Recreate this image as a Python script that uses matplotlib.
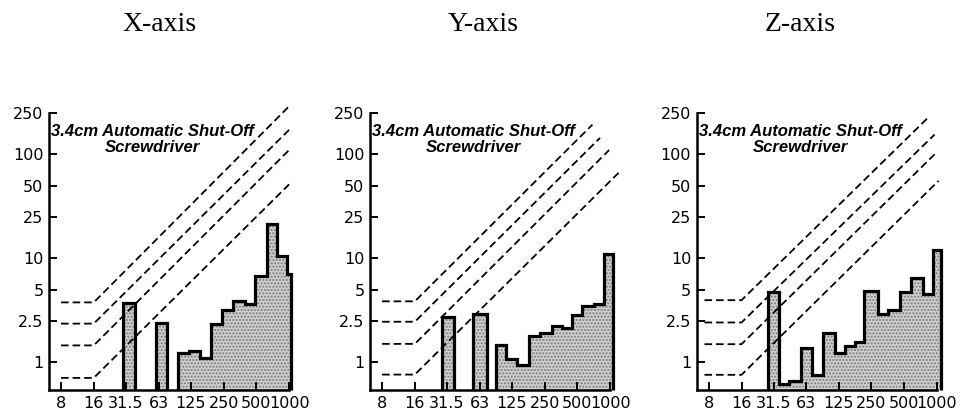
import numpy as np
import matplotlib
matplotlib.use("Agg")
import matplotlib.pyplot as plt
from matplotlib.ticker import FixedLocator, FixedFormatter, NullLocator

titles = ["X-axis", "Y-axis", "Z-axis"]
note = "3.4cm Automatic Shut-Off\nScrewdriver"

x_ticks = [8, 16, 31.5, 63, 125, 250, 500, 1000]
x_tick_labels = ["8", "16", "31.5", "63", "125", "250", "500", "1000"]
y_ticks = [1, 2.5, 5, 10, 25, 50, 100, 250]
y_tick_labels = ["1", "2.5", "5", "10", "25", "50", "100", "250"]

nan = np.nan

# band edges (Hz) and levels, nan = empty band
x_edges = [29.5, 38.7, 59.3, 75.2, 94.6, 120.7, 151, 192.6, 243, 303, 395, 488, 623, 768, 959, 1036]
x_levels = [3.7, nan, 2.37, nan, 1.23, 1.28, 1.10, 2.33, 3.19, 3.89, 3.62, 6.8, 21.5, 10.6, 7.06]

y_edges = [28.6, 36.4, 55.1, 73.2, 89.3, 110.5, 140.6, 177.8, 228, 293, 362, 442, 555, 711, 880, 1052]
y_levels = [2.70, nan, 2.90, nan, 1.45, 1.08, 0.95, 1.80, 1.91, 2.25, 2.13, 2.87, 3.5, 3.65, 11.1]

z_edges = [27.8, 35.4, 44.1, 56.5, 70.7, 90.6, 116, 143.5, 177, 216, 286, 359, 460, 581, 743, 913, 1098]
z_levels = [4.75, 0.62, 0.66, 1.38, 0.746, 1.89, 1.22, 1.44, 1.58, 4.85, 2.90, 3.21, 4.75, 6.51, 4.57, 11.9]

# dashed limit curves: flat up to the knee, then rising to an end point
line_start = [8, 8, 7.3]
line_knee = 16
x_line_levels = [3.76, 2.35, 1.45, 0.706]
x_line_end_hz = [1000, 1000, 1000, 1000]
x_line_end_vals = [290, 172, 110, 51.4]
y_line_levels = [3.85, 2.45, 1.50, 0.76]
y_line_end_hz = [687, 808, 979, 1196]
y_line_end_vals = [193, 144, 110, 66.4]
z_line_levels = [3.95, 2.41, 1.49, 0.756]
z_line_end_hz = [811, 953, 953, 1036]
z_line_end_vals = [220, 155, 100, 55.6]

panels = [
    (x_edges, x_levels, x_line_levels, x_line_end_hz, x_line_end_vals),
    (y_edges, y_levels, y_line_levels, y_line_end_hz, y_line_end_vals),
    (z_edges, z_levels, z_line_levels, z_line_end_hz, z_line_end_vals),
]

plt.rcParams['font.family'] = ['DejaVu Sans']

ymin, ymax = 0.54, 250
xmin, xmax = 6.2, 1000


def groups(edges, levels):
    # split the band list into runs without gaps
    runs = []
    start = None
    for i, v in enumerate(levels):
        if np.isnan(v):
            if start is not None:
                runs.append((edges[start:i + 1], levels[start:i]))
                start = None
        elif start is None:
            start = i
    if start is not None:
        runs.append((edges[start:], levels[start:]))
    return runs


fig = plt.figure(figsize=(9.8, 4.16), dpi=100)
lefts = [0.05, 0.3776, 0.711]
title_x = [0.163, 0.493, 0.817]

for k, (edges, levels, l_levels, l_end_hz, l_end_vals) in enumerate(panels):
    ax = fig.add_axes([lefts[k], 0.0625, 0.245, 0.666])
    ax.set_xscale('log')
    ax.set_yscale('log')
    ax.set_xlim(xmin, xmax)
    ax.set_ylim(ymin, ymax)

    for e, v in groups(edges, levels):
        ax.stairs(v, e, baseline=ymin, fill=True, facecolor='#cfcfcf',
                  edgecolor='#7a7a7a', linewidth=0, hatch='.....',
                  clip_on=False, zorder=1)
        ax.stairs(v, e, baseline=ymin, fill=False, color='black',
                  linewidth=2.3, clip_on=False, zorder=3)

    for lv, fe, ve in zip(l_levels, l_end_hz, l_end_vals):
        ax.plot([line_start[k], line_knee, fe], [lv, lv, ve], color='black',
                linewidth=1.3, linestyle=(0, (4.2, 2.2)), clip_on=False,
                zorder=2)

    for side in ['top', 'right']:
        ax.spines[side].set_visible(False)
    for side in ['left', 'bottom']:
        ax.spines[side].set_linewidth(1.8)

    ax.xaxis.set_major_locator(FixedLocator(x_ticks))
    ax.xaxis.set_major_formatter(FixedFormatter(x_tick_labels))
    ax.yaxis.set_major_locator(FixedLocator(y_ticks))
    ax.yaxis.set_major_formatter(FixedFormatter(y_tick_labels))
    ax.xaxis.set_minor_locator(NullLocator())
    ax.yaxis.set_minor_locator(NullLocator())
    ax.tick_params(axis='both', direction='in', length=6, width=1.4,
                   labelsize=11.5, pad=4)
    ax.tick_params(axis='x', pad=4)

    ax.text(0.43, 0.905, note, transform=ax.transAxes, ha='center',
            va='center', multialignment='center', family='Liberation Sans',
            fontsize=12, fontweight='bold', fontstyle='italic',
            linespacing=1.05)

    fig.text(title_x[k], 0.925, titles[k], ha='center',
             va='baseline', family='Liberation Serif', fontsize=20)

fig.savefig('out.png', dpi=100)
